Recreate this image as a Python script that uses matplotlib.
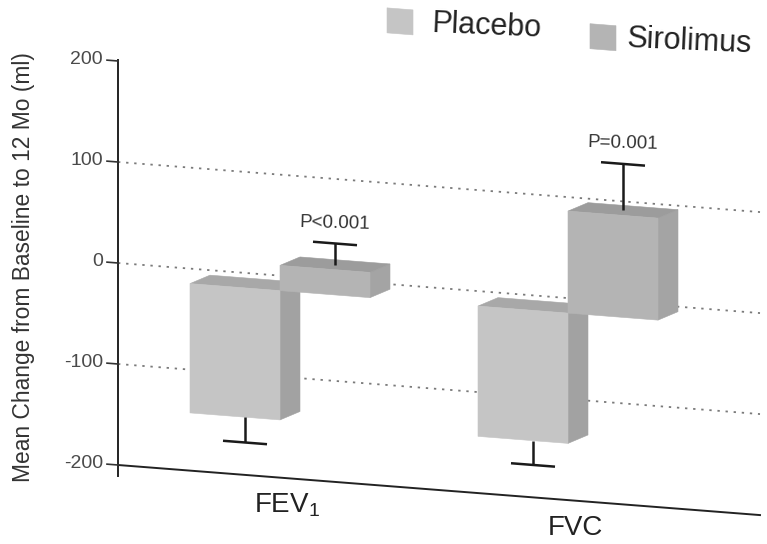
import numpy as np
import matplotlib
matplotlib.use("Agg")
import matplotlib.pyplot as plt
from matplotlib.patches import Polygon
from matplotlib.transforms import Affine2D

plt.rcParams['font.family'] = ['Liberation Sans', 'DejaVu Sans']
plt.rcParams['mathtext.default'] = 'regular'

# ---- data -------------------------------------------------------------
categories = ['FEV$_1$', 'FVC']
series_names = ['Placebo', 'Sirolimus']
placebo_mean = [-128, -129]
sirolimus_mean = [25, 101]
placebo_err = [30, 29]
sirolimus_err = [21, 46]
p_labels = ['P<0.001', 'P=0.001']
y_ticks = [200, 100, 0, -100, -200]
y_tick_labels = ['200', '100', '0', '-100', '-200']
grid_values = [100, 0, -100]
y_label = 'Mean Change from Baseline to 12 Mo (ml)'

# ---- layout -----------------------------------------------------------
W, H = 767, 544
PX_PER_CAT = 288.0        # pixels between category groups
CAT0_PX = 280.0           # pixel column of the first group centre
PX_PER_UNIT = 1.01        # pixels per ml
ZERO_PX = 281.0           # height of the 0 ml line above the bottom edge
AXIS_PX = 118.0           # pixel column of the value axis
SLANT = 0.078             # downward slope of the whole drawing

BAR_W = 90 / PX_PER_CAT
DX = 20 / PX_PER_CAT      # bar depth, horizontal
DY = 10 / PX_PER_UNIT     # bar depth, vertical
FRONT = -15 / PX_PER_UNIT # front plane of the bars relative to the back wall
CAP = 22 / PX_PER_CAT
AXIS_X = (AXIS_PX - CAT0_PX) / PX_PER_CAT
RIGHT_X = (760 - CAT0_PX) / PX_PER_CAT

fig = plt.figure(figsize=(W / 100, H / 100), dpi=100)
fig.patch.set_facecolor('white')
ax = fig.add_axes([0, 0, 1, 1])
ax.axis('off')
ax.set_xlim(-CAT0_PX / PX_PER_CAT, (W - CAT0_PX) / PX_PER_CAT)
ax.set_ylim(-ZERO_PX / PX_PER_UNIT, (H - ZERO_PX) / PX_PER_UNIT)

slant = (Affine2D().translate(-AXIS_PX, 0)
         .skew(0, np.arctan(-SLANT)).translate(AXIS_PX, 0))
T = ax.transData + slant

# ---- back wall: grid, axes, ticks --------------------------------------
for g in grid_values:
    ax.plot([AXIS_X, RIGHT_X], [g, g], transform=T, color='#7a7a7a',
            lw=1.3, ls=(0, (1.3, 3.2)), zorder=1, clip_on=False)

ax.plot([AXIS_X, AXIS_X], [-211, 201], transform=T, color='#222222',
        lw=1.4, zorder=2, clip_on=False)
ax.plot([AXIS_X, RIGHT_X], [-200, -200], transform=T, color='#222222',
        lw=1.4, zorder=2, clip_on=False)

tick_len = 11 / PX_PER_CAT
for v, lab in zip(y_ticks, y_tick_labels):
    ax.plot([AXIS_X - tick_len, AXIS_X], [v, v], transform=T,
            color='#333333', lw=1.2, zorder=2, clip_on=False)
    ax.text(AXIS_X - 15 / PX_PER_CAT, v, lab, transform=T, ha='right',
            va='center', fontsize=14, color='#4a4a4a')

fig.text(24 / W, 1 - 267 / H, y_label, rotation=90, ha='center',
         va='center', fontsize=16.4, color='#333333')

# ---- 3-D bars ----------------------------------------------------------
styles = {
    'Placebo': dict(front='#c5c5c5', top='#a8a8a8', side='#a2a2a2'),
    'Sirolimus': dict(front='#b4b4b4', top='#9c9c9c', side='#a4a4a4'),
}


def face(pts, color, z):
    ax.add_patch(Polygon(pts, closed=True, facecolor=color, edgecolor=color,
                         lw=0.4, transform=T, zorder=z, clip_on=False))


def bar3d(x_left, value, err, st, z):
    xl, xr = x_left, x_left + BAR_W
    lo, hi = sorted([FRONT, FRONT + value])
    face([(xr, lo), (xr, hi), (xr + DX, hi + DY), (xr + DX, lo + DY)],
         st['side'], z)
    face([(xl, hi), (xr, hi), (xr + DX, hi + DY), (xl + DX, hi + DY)],
         st['top'], z)
    face([(xl, lo), (xr, lo), (xr, hi), (xl, hi)], st['front'], z)

    xm = x_left + BAR_W / 2 + DX / 2
    if value >= 0:
        y0 = FRONT + value + DY / 2
        y1 = y0 + err
    else:
        y0 = FRONT + value
        y1 = FRONT + value - err + DY / 2
    ax.plot([xm, xm], [y0, y1], transform=T, color='#1a1a1a', lw=1.8,
            zorder=20, clip_on=False, solid_capstyle='butt')
    ax.plot([xm - CAP, xm + CAP], [y1, y1], transform=T, color='#1a1a1a',
            lw=1.8, zorder=20, clip_on=False, solid_capstyle='butt')
    return xm, y1


for i, cat in enumerate(categories):
    bar3d(i - BAR_W, placebo_mean[i], placebo_err[i], styles['Placebo'],
          3 + 2 * i)
    xm, ycap = bar3d(i, sirolimus_mean[i], sirolimus_err[i],
                     styles['Sirolimus'], 4 + 2 * i)
    ax.text(xm, ycap + 20, p_labels[i], transform=T, ha='center',
            va='center', fontsize=13.5, color='#333333', rotation=-1.5)
    ax.text(i + 0.025, -227, cat, transform=T, ha='center', va='center',
            fontsize=20, color='#222222')

# ---- legend ------------------------------------------------------------
leg_w = 26 / PX_PER_CAT
leg_h = 25 / PX_PER_UNIT
legend_pos = {'Placebo': (0.4167, 0.528), 'Sirolimus': (1.1215, 1.205)}
for name in series_names:
    cx, tx = legend_pos[name]
    cy = 261
    face([(cx - leg_w / 2, cy - leg_h / 2), (cx + leg_w / 2, cy - leg_h / 2),
          (cx + leg_w / 2, cy + leg_h / 2), (cx - leg_w / 2, cy + leg_h / 2)],
         styles[name]['front'], 30)
    ax.text(tx, cy, name, transform=T, ha='left', va='center',
            rotation=-2.5, rotation_mode='anchor', fontsize=22,
            color='#222222')

fig.savefig('out.png', dpi=100, facecolor='white')
